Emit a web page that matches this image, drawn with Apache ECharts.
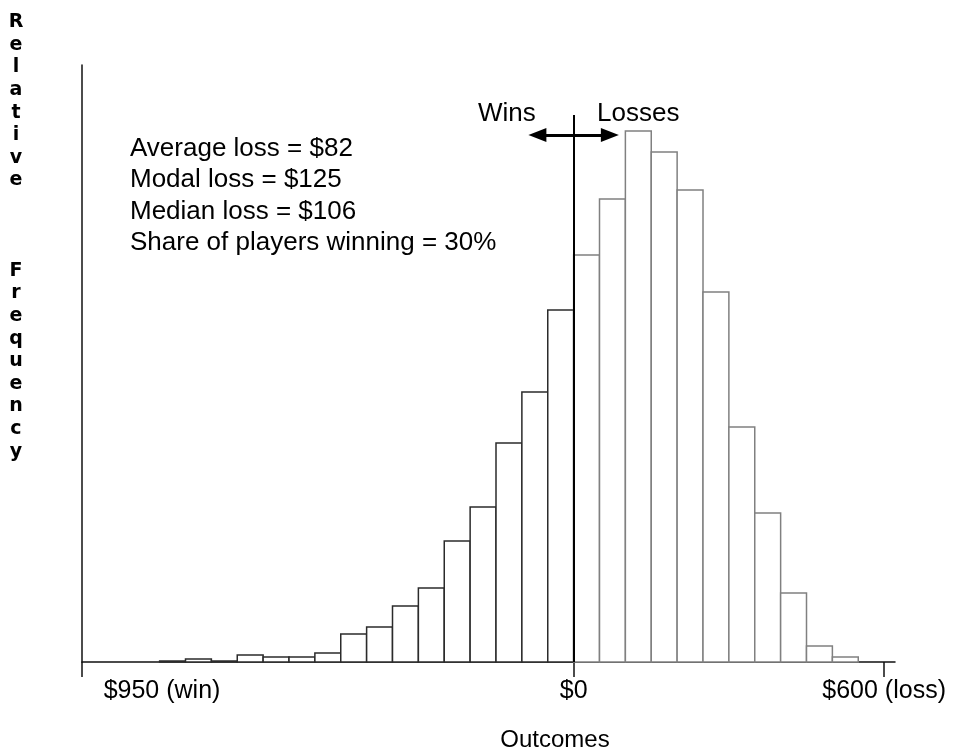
<!DOCTYPE html>
<html><head><meta charset="utf-8">
<script src="https://cdn.jsdelivr.net/npm/echarts@6/dist/echarts.min.js"></script>
<style>html,body{margin:0;padding:0;background:#fff}#c{width:957px;height:751px}</style>
</head><body><div id="c"></div>
<script>
// Histogram bins (outcome in $, negative = win, positive = loss)
var binLow  = [-800,-750,-700,-650,-600,-550,-500,-450,-400,-350,-300,-250,-200,-150,-100,-50,0,50,100,150,200,250,300,350,400,450,500];
var binHigh = [-750,-700,-650,-600,-550,-500,-450,-400,-350,-300,-250,-200,-150,-100,-50,0,50,100,150,200,250,300,350,400,450,500,550];
// Relative frequency (arbitrary units)
var frequency = [1,3,1,7,5,5,9,28,35,56,74,121,155,219,270,352,407,463,531,510,472,370,235,149,69,16,5];
var tickValues = [-950, 0, 600];
var tickLabels = ['$950 (win)', '$0', '$600 (loss)'];
var statLines = ['Average loss = $82', 'Modal loss = $125', 'Median loss = $106', 'Share of players winning = 30%'];
var yTitleWords = ['Relative', 'Frequency'];
var xTitle = 'Outcomes';
var sideLabels = ['Wins', 'Losses'];
var zeroLineTop = 547;   // annotation line top (y units)
var arrowLevel = 527;    // arrow height (y units)
var arrowHalf = 70;      // arrow half-length ($)

var data = binLow.map(function (lo, i) { return [lo, binHigh[i], frequency[i]]; });
var yTitleText = yTitleWords.map(function (w) { return w.split('').join('\n'); }).join('\n\n\n\n');

var chart = echarts.init(document.getElementById('c'), null, {renderer: 'canvas'});
var FONT = '"Liberation Sans", Arial, sans-serif';
chart.setOption({
  animation: false,
  backgroundColor: '#fff',
  grid: {left: 82, right: 62, top: 65, bottom: 89, outerBoundsMode: 'none', containLabel: false},
  xAxis: {
    type: 'value', min: -950, max: 621,
    splitLine: {show: false},
    axisLine: {show: true, onZero: false, lineStyle: {color: '#111', width: 1.5}},
    axisTick: {show: true, customValues: tickValues, length: 15, lineStyle: {color: '#111', width: 1.5}},
    axisLabel: {
      show: true, customValues: tickValues, margin: 17, color: '#000',
      fontFamily: FONT, fontSize: 25, hideOverlap: false,
      formatter: function (v) {
        var i = tickValues.indexOf(v);
        var t = i >= 0 ? tickLabels[i] : '';
        return i === 0 ? '{w|' + t + '}' : t;
      },
      rich: {w: {fontFamily: FONT, fontSize: 25, color: '#000', padding: [0, 0, 0, 160]}}
    },
    name: xTitle, nameLocation: 'middle', nameGap: 66,
    nameTextStyle: {fontFamily: FONT, fontSize: 24, color: '#000', padding: [0, 0, 0, 133]}
  },
  yAxis: {
    type: 'value', min: 0, max: 597,
    splitLine: {show: false},
    axisLine: {show: true, onZero: false, lineStyle: {color: '#111', width: 1.5}},
    axisTick: {show: false}, axisLabel: {show: false}
  },
  graphic: [
    {type: 'text', x: 16, y: 11, silent: true,
     style: {text: yTitleText, font: 'bold 19px "DejaVu Sans", sans-serif', fill: '#000',
             textAlign: 'center', textVerticalAlign: 'top', lineHeight: 22.6}},
    {type: 'text', x: 130, y: 133, silent: true,
     style: {text: statLines.join('\n'), font: '26px ' + FONT, fill: '#000', lineHeight: 31.5,
             textAlign: 'left', textVerticalAlign: 'top'}},
    {type: 'text', x: 478, y: 101, silent: true,
     style: {text: sideLabels[0], font: '26px ' + FONT, fill: '#000', textAlign: 'left', textVerticalAlign: 'top'}},
    {type: 'text', x: 597, y: 101, silent: true,
     style: {text: sideLabels[1], font: '26px ' + FONT, fill: '#000', textAlign: 'left', textVerticalAlign: 'top'}}
  ],
  series: [{
    type: 'custom',
    data: data,
    encode: {x: [0, 1], y: 2},
    renderItem: function (params, api) {
      var lo = api.value(0), hi = api.value(1), v = api.value(2);
      var p0 = api.coord([lo, 0]);
      var p1 = api.coord([hi, v]);
      var win = hi <= 0;
      return {
        type: 'rect',
        shape: {x: p0[0], y: p1[1], width: p1[0] - p0[0], height: p0[1] - p1[1]},
        style: {fill: '#fff', stroke: win ? '#2b2b2b' : '#808080', lineWidth: 1.5}
      };
    },
    markLine: {
      silent: true, animation: false,
      label: {show: false},
      emphasis: {disabled: true},
      data: [
        [{xAxis: 0, yAxis: 0, symbol: 'none', lineStyle: {color: '#000', width: 2, type: 'solid'}},
         {xAxis: 0, yAxis: zeroLineTop, symbol: 'none'}],
        [{xAxis: -arrowHalf, yAxis: arrowLevel, symbol: 'triangle', symbolSize: [14, 18], lineStyle: {color: '#000', width: 3, type: 'solid'}},
         {xAxis: arrowHalf, yAxis: arrowLevel, symbol: 'triangle', symbolSize: [14, 18]}]
      ],
      itemStyle: {color: '#000'}
    }
  }]
});
</script>
</body></html>
